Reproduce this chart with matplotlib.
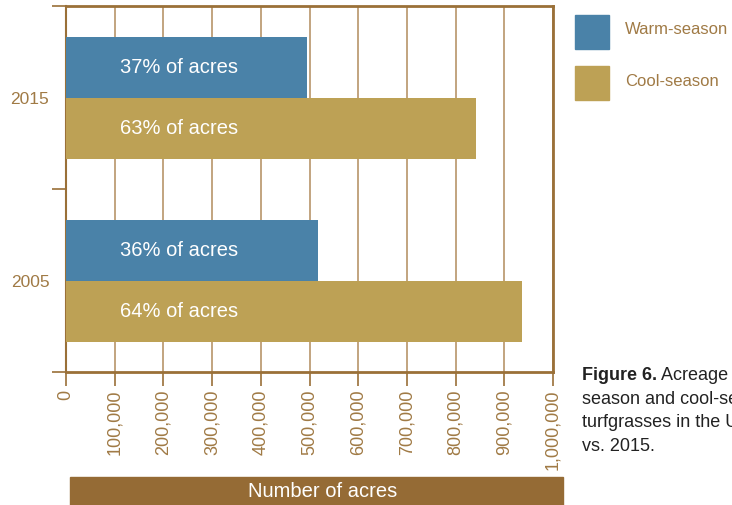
import matplotlib
matplotlib.use("Agg")
import matplotlib.pyplot as plt
from matplotlib.patches import Rectangle

plt.rcParams['font.family'] = ['Liberation Sans', 'DejaVu Sans']

years = ["2015", "2005"]
warm = [495000, 517000]
cool = [842000, 936000]
warm_labels = ["37% of acres", "36% of acres"]
cool_labels = ["63% of acres", "64% of acres"]
xticks = [0, 100000, 200000, 300000, 400000, 500000, 600000, 700000, 800000, 900000, 1000000]
xtick_labels = ["0", "100,000", "200,000", "300,000", "400,000", "500,000",
                "600,000", "700,000", "800,000", "900,000", "1,000,000"]

BLUE = "#4a82a8"
GOLD = "#bda155"
BROWN = "#9a7038"
TXT = "#a07a45"

W, H = 732, 506
fig = plt.figure(figsize=(W/100, H/100), dpi=100)
ax = fig.add_axes([66/W, 1-373/H, (553-66)/W, (373-7)/H])

centers = [0.5, 1.5]
h = 1/3
for i, c in enumerate(centers):
    ax.barh(c - h/2, warm[i], height=h, color=BLUE, zorder=3)
    ax.barh(c + h/2, cool[i], height=h, color=GOLD, zorder=3)
    ax.text(110000, c - h/2, warm_labels[i], color="white", fontsize=14.5,
            va="center", ha="left", zorder=4)
    ax.text(110000, c + h/2, cool_labels[i], color="white", fontsize=14.5,
            va="center", ha="left", zorder=4)

ax.set_xlim(0, 1000000)
ax.set_ylim(2, 0)
ax.set_xticks(xticks)
ax.set_xticklabels(xtick_labels, rotation=90, color=TXT, fontsize=13)
ax.set_yticks([0, 1, 2])
ax.set_yticklabels([])
ax.set_yticks(centers, minor=True)
ax.set_yticklabels(years, minor=True, color=TXT, fontsize=12.5)
ax.tick_params(axis='y', which='minor', length=0, pad=12)
ax.tick_params(axis='y', which='major', length=10, color=BROWN, width=1.2)
ax.tick_params(axis='x', length=10, color=BROWN, width=1.2, pad=2)
ax.grid(axis='x', color="#b8956a", linewidth=1.2, zorder=1)
for s in ax.spines.values():
    s.set_color(BROWN)
    s.set_linewidth(2)
ax.spines['left'].set_linewidth(1.5)

# x-axis title box
fig.patches.append(Rectangle((70/W, 0), (563-70)/W, 28/H, transform=fig.transFigure,
                             color="#956b35", zorder=0))
fig.text(323/W, 14/H, "Number of acres", color="white", fontsize=14.5,
         ha="center", va="center")

# legend
fig.patches.append(Rectangle((575/W, 1-50/H), 34/W, 34/H, transform=fig.transFigure, color=BLUE))
fig.patches.append(Rectangle((575/W, 1-101/H), 34/W, 34/H, transform=fig.transFigure, color=GOLD))
fig.text(625/W, 1-30/H, "Warm-season", color=TXT, fontsize=12, va="center", ha="left")
fig.text(625/W, 1-81/H, "Cool-season", color=TXT, fontsize=12, va="center", ha="left")

# caption (cut off at the right edge, as in the reference)
cap_lines = [("Figure 6.", " Acreage of warm-"), ("", "season and cool-season"),
             ("", "turfgrasses in the U.S. 2005"), ("", "vs. 2015.")]
y0 = 376
for k, (b, r) in enumerate(cap_lines):
    y = 1 - (y0 + k*23.5)/H
    if b:
        t = fig.text(582/W, y, b, fontsize=13, fontweight="bold", color="#222222", va="center")
        fig.canvas.draw()
        bb = t.get_window_extent()
        fig.text(bb.x1/W, y, r, fontsize=13, color="#222222", va="center")
    else:
        fig.text(582/W, y, r, fontsize=13, color="#222222", va="center")

fig.savefig("out.png", dpi=100)
